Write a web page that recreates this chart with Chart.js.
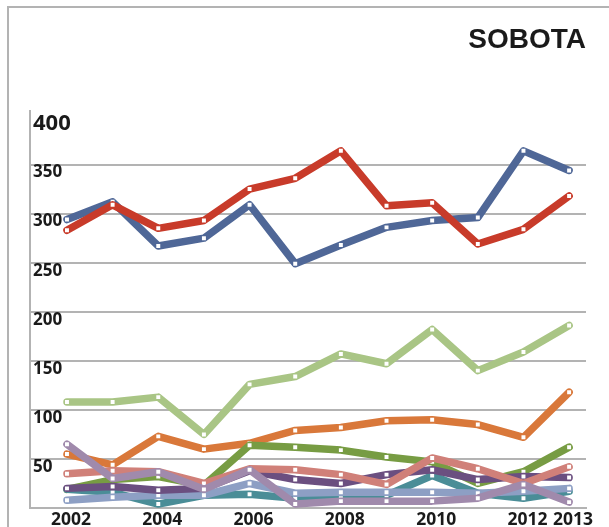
<!DOCTYPE html>
<html>
<head>
<meta charset="utf-8">
<script src="https://cdn.jsdelivr.net/npm/chart.js@4"></script>
<style>
  html, body { margin: 0; padding: 0; background: #fff; }
  #wrap { position: relative; width: 609px; height: 527px; overflow: hidden; }
  #frame { position: absolute; left: 7px; top: 6px; width: 700px; height: 700px;
           border-left: 2px solid #b3b3b3; border-top: 2px solid #b3b3b3; }
  canvas { position: absolute; left: 0; top: 0; }
</style>
</head>
<body>
<div id="wrap">
  <div id="frame"></div>
  <canvas id="c" width="609" height="527"></canvas>
</div>
<script>
// Years on the horizontal axis
const years = [2002, 2003, 2004, 2005, 2006, 2007, 2008, 2009, 2010, 2011, 2012, 2013];
const xTickYears = [2002, 2004, 2006, 2008, 2010, 2012, 2013];
const yTickValues = [0, 50, 100, 150, 200, 250, 300, 350, 400];

// Series values, one array per line
const seriesBlue        = [294, 312, 267, 275, 309, 249, 268, 286, 293, 296, 364, 344];
const seriesRed         = [283, 309, 285, 293, 325, 336, 364, 308, 311, 269, 284, 318];
const seriesLightGreen  = [108, 108, 113, 75, 126, 134, 157, 147, 182, 140, 159, 186];
const seriesOrange      = [55, 44, 73, 60, 66, 79, 82, 89, 90, 85, 72, 118];
const seriesDarkGreen   = [19, 29, 32, 23, 64, 62, 59, 52, 47, 25, 37, 62];
const seriesTeal        = [19, 16, 4, 13, 14, 10, 10, 13, 33, 15, 10, 17];
const seriesLightBlue   = [8, 11, 13, 13, 25, 15, 16, 16, 16, 15, 17, 20];
const seriesDarkPurple  = [20, 22, 18, 20, 38, 29, 25, 34, 39, 29, 32, 31];
const seriesPink        = [35, 38, 37, 25, 40, 39, 34, 24, 51, 40, 25, 42];
const seriesLightPurple = [65, 30, 37, 19, 39, 4, 7, 7, 7, 10, 24, 6];

const GRID = '#b3b3b3';
const TEXT = '#1a1a1a';

function line(values, color) {
  return {
    data: years.map((y, i) => ({ x: y, y: values[i] })),
    borderColor: color,
    backgroundColor: color,
    borderWidth: 7.5,
    borderJoinStyle: 'round',
    borderCapStyle: 'round',
    tension: 0,
    fill: false,
    pointStyle: 'rect',
    pointRadius: 2.8,
    pointBackgroundColor: '#ffffff',
    pointBorderWidth: 0,
    pointHoverRadius: 2.8
  };
}

// First dataset is painted last (on top)
const datasets = [
  line(seriesLightPurple, '#a08aac'),
  line(seriesPink,        '#d08079'),
  line(seriesDarkPurple,  '#6b4f80'),
  line(seriesLightBlue,   '#8d9fc4'),
  line(seriesTeal,        '#4a8d97'),
  line(seriesDarkGreen,   '#779c43'),
  line(seriesOrange,      '#d9783a'),
  line(seriesLightGreen,  '#a9c585'),
  line(seriesRed,         '#c83b2a'),
  line(seriesBlue,        '#4f6797')
];

new Chart(document.getElementById('c'), {
  type: 'line',
  data: { datasets },
  options: {
    responsive: false,
    devicePixelRatio: 1,
    animation: false,
    layout: { padding: { left: 30, right: 23, top: 0, bottom: 0 } },
    plugins: {
      legend: { display: false },
      tooltip: { enabled: false },
      title: {
        display: true,
        text: 'SOBOTA',
        align: 'end',
        color: TEXT,
        font: { family: 'Liberation Sans', weight: 'bold', size: 28 },
        padding: { top: 23, bottom: 54 }
      }
    },
    scales: {
      x: {
        type: 'linear',
        min: 2001.19,
        max: 2013.37,
        afterBuildTicks: axis => { axis.ticks = xTickYears.map(v => ({ value: v })); },
        afterFit: axis => { axis.height = 19; },
        grid: { display: false, drawTicks: false },
        border: { display: true, color: GRID, width: 2 },
        ticks: {
          autoSkip: false,
          maxRotation: 0,
          padding: 2,
          labelOffset: 4,
          color: TEXT,
          font: { family: 'Open Sans', weight: 'bold', size: 17.5 },
          callback: v => String(v)
        }
      },
      y: {
        type: 'linear',
        min: 0,
        max: 405,
        afterBuildTicks: axis => { axis.ticks = yTickValues.map(v => ({ value: v })); },
        afterFit: axis => { axis.width = 0; },
        grid: {
          drawTicks: false,
          lineWidth: 2,
          color: ctx => (ctx.tick && (ctx.tick.value === 0 || ctx.tick.value === 400)) ? 'rgba(0,0,0,0)' : GRID
        },
        border: { display: true, color: GRID, width: 2 },
        ticks: {
          mirror: true,
          padding: 3,
          labelOffset: 8,
          color: TEXT,
          font: ctx => ({
            family: 'Open Sans',
            weight: 'bold',
            size: (ctx.tick && ctx.tick.value === 400) ? 22 : 17
          }),
          callback: v => (v === 0 ? '' : String(v))
        }
      }
    }
  }
});
</script>
</body>
</html>
